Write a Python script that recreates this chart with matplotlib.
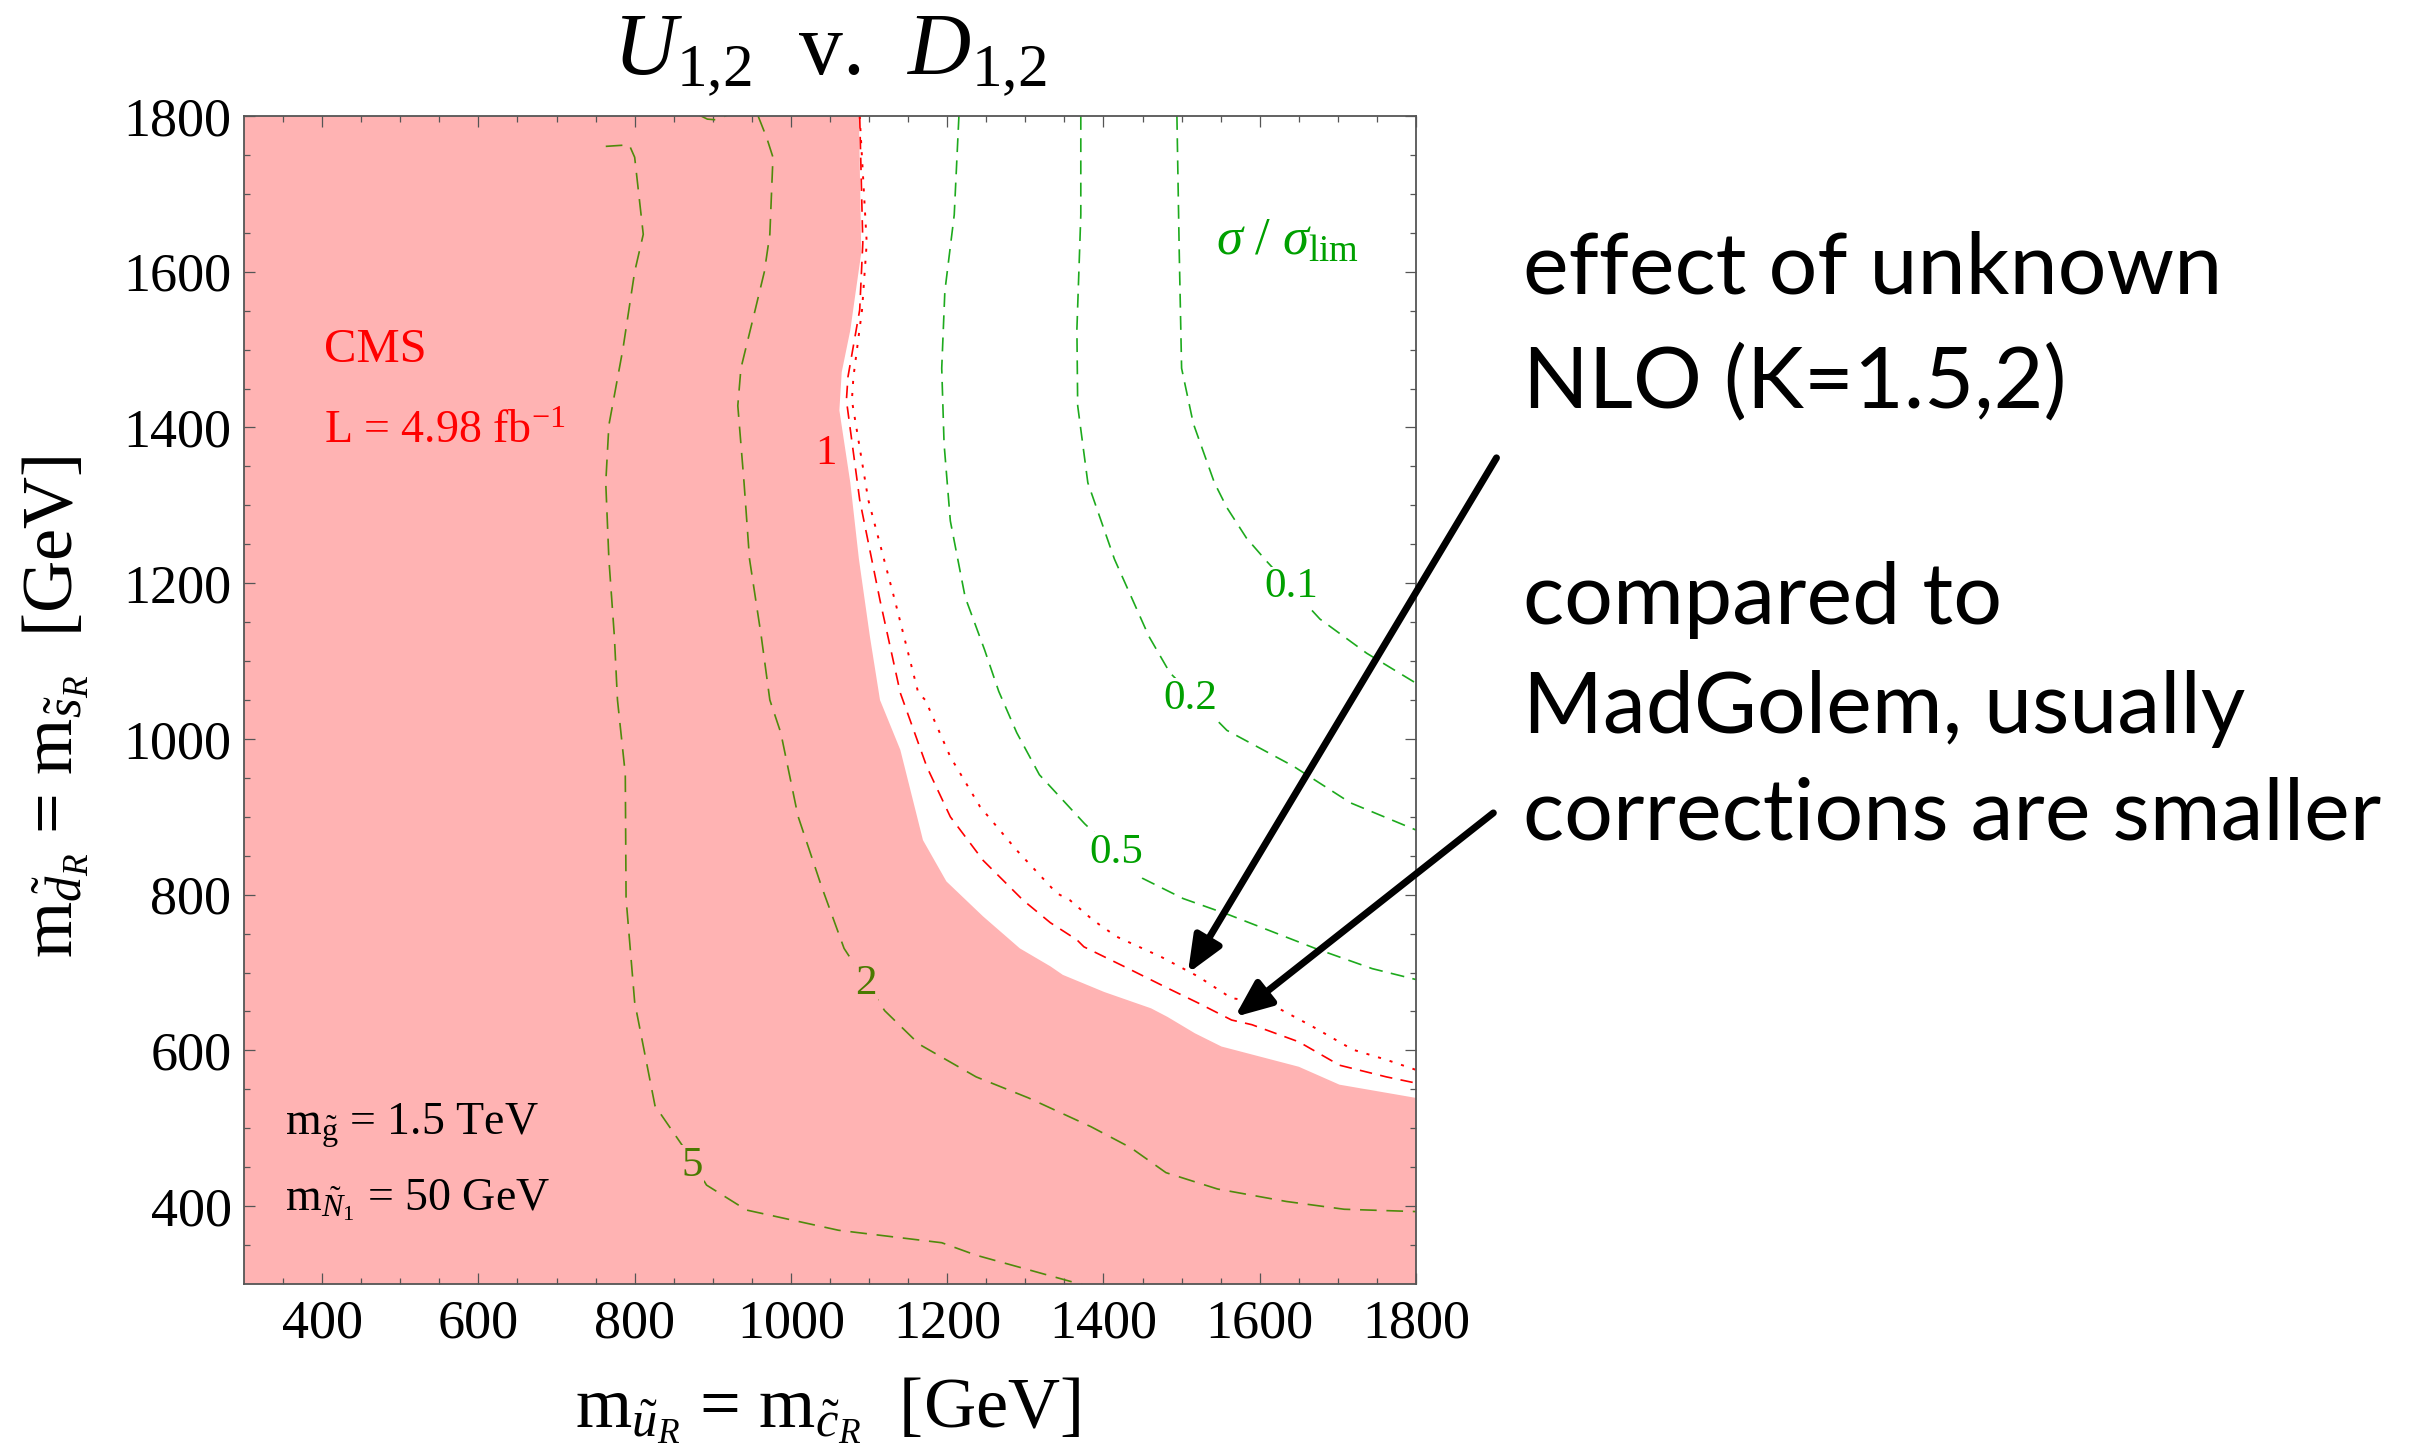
import matplotlib
matplotlib.use("Agg")
import matplotlib.pyplot as plt

plt.rcParams["font.family"] = ["Liberation Serif", "DejaVu Serif"]
plt.rcParams["mathtext.fontset"] = "custom"
plt.rcParams["mathtext.rm"] = "Liberation Serif"
plt.rcParams["mathtext.it"] = "Liberation Serif:italic"
plt.rcParams["mathtext.bf"] = "Liberation Serif:bold"
plt.rcParams["lines.scale_dashes"] = False

# ---- CMS exclusion boundary (sigma/sigma_lim = 1), squark masses in GeV ----
excl_x = [1087, 1090, 1083, 1076, 1065, 1062, 1076, 1087, 1101, 1114, 1140, 1169,
          1199, 1246, 1293, 1332, 1348, 1401, 1461, 1482, 1517, 1551, 1650, 1702, 1800]
excl_y = [1800, 1624, 1575, 1525, 1471, 1422, 1329, 1231, 1132, 1050, 986, 870,
          817, 772, 731, 708, 697, 675, 654, 643, 622, 605, 579, 556, 539]

# ---- NLO K-factor variations of the limit ----
k15_x = [1088, 1092, 1088, 1073, 1071, 1088, 1114, 1140, 1174, 1204, 1246, 1297,
         1332, 1366, 1375, 1430, 1482, 1521, 1564, 1590, 1650, 1702, 1762, 1800]
k15_y = [1800, 1637, 1551, 1465, 1435, 1307, 1178, 1059, 964, 900, 844, 793,
         764, 742, 733, 706, 680, 661, 639, 633, 611, 581, 566, 558]
k2_x = [1088, 1097, 1091, 1080, 1078, 1099, 1133, 1163, 1172, 1204, 1242, 1289,
        1340, 1357, 1387, 1417, 1474, 1521, 1564, 1611, 1667, 1719, 1762, 1800]
k2_y = [1800, 1637, 1551, 1465, 1435, 1307, 1178, 1059, 1050, 977, 913, 857,
        802, 793, 767, 746, 720, 695, 667, 661, 631, 601, 588, 575]

# ---- sigma / sigma_lim contours ----
c01_x = [1494, 1497, 1500, 1515, 1542, 1558, 1583, 1609, 1677, 1737, 1801]
c01_y = [1800, 1624, 1476, 1405, 1329, 1297, 1258, 1228, 1154, 1110, 1071]
c02_x = [1371, 1371, 1366, 1367, 1380, 1414, 1458, 1485, 1558, 1643, 1716, 1800]
c02_y = [1800, 1673, 1526, 1428, 1329, 1231, 1132, 1085, 1011, 965, 918, 883]
c05_x = [1215, 1209, 1197, 1193, 1196, 1204, 1223, 1248, 1266, 1289, 1318, 1376,
         1450, 1502, 1561, 1671, 1744, 1800]
c05_y = [1800, 1673, 1575, 1476, 1379, 1280, 1182, 1114, 1061, 1008, 954, 891,
         821, 795, 774, 731, 705, 691]
c2_x = [958, 969, 977, 973, 966, 954, 936, 932, 940, 947, 962, 973, 987, 1009,
        1039, 1068, 1120, 1164, 1237, 1304, 1384, 1435, 1480, 1546, 1634, 1708, 1800]
c2_y = [1800, 1772, 1747, 1648, 1600, 1550, 1476, 1428, 1329, 1231, 1132, 1050,
        1008, 901, 811, 731, 651, 608, 566, 539, 502, 475, 443, 422, 406, 396, 393]
c2_top_x = [883, 893, 905, 918]
c2_top_y = [1801, 1796, 1795, 1801]
c5_x = [763, 793, 800, 811, 800, 785, 767, 763, 767, 774, 778, 788, 789, 800,
        826, 863, 892, 943, 1061, 1193, 1237, 1384]
c5_y = [1761, 1763, 1747, 1648, 1600, 1501, 1403, 1329, 1231, 1132, 1050, 955,
        795, 662, 529, 475, 427, 395, 369, 353, 337, 296]

# contour labels: (text, x, y)
green_labels = [("0.1", 1640, 1195), ("0.2", 1511, 1052), ("0.5", 1417, 854)]
olive_labels = [("2", 1096, 686), ("5", 873, 452)]
red_label = ("1", 1045, 1366)

x_ticks = [400, 600, 800, 1000, 1200, 1400, 1600, 1800]
y_ticks = [400, 600, 800, 1000, 1200, 1400, 1600, 1800]

PINK = "#FFB3B3"
RED = "#FF0000"
GREEN = "#1DAA1D"
GREEN_TXT = "#00A000"
OLIVE = "#4F8A0B"
OLIVE_TXT = "#4A7A00"

W, H = 2419, 1445
fig = plt.figure(figsize=(W / 100, H / 100), dpi=100)
ax = fig.add_axes([244 / W, (H - 1284) / H, 1172 / W, 1168 / H])
ax.set_xlim(300, 1800)
ax.set_ylim(300, 1800)

# excluded region
poly_x = [300, 300] + excl_x + [1800]
poly_y = [300, 1800] + excl_y + [300]
ax.fill(poly_x, poly_y, color=PINK, lw=0, zorder=1)

lw = 1.2
ax.plot(k15_x, k15_y, color=RED, lw=lw, ls=(0, (9, 6)), zorder=3)
ax.plot(k2_x, k2_y, color=RED, lw=1.4, ls=(0, (2.2, 6.5)), zorder=3)
for cx, cy in [(c01_x, c01_y), (c02_x, c02_y), (c05_x, c05_y)]:
    ax.plot(cx, cy, color=GREEN, lw=lw, ls=(0, (10, 6)), zorder=3)
for cx, cy in [(c2_x, c2_y), (c2_top_x, c2_top_y), (c5_x, c5_y)]:
    ax.plot(cx, cy, color=OLIVE, lw=lw, ls=(0, (12, 7)), zorder=3)

lab_fs = 31
for t, x, y in green_labels:
    ax.text(x, y, t, color=GREEN_TXT, fontsize=lab_fs, ha="center", va="center",
            zorder=4, bbox=dict(fc="white", ec="none", pad=1))
for t, x, y in olive_labels:
    ax.text(x, y, t, color=OLIVE_TXT, fontsize=lab_fs, ha="center", va="center",
            zorder=4, bbox=dict(fc=PINK, ec="none", pad=1))
ax.text(red_label[1], red_label[2], red_label[0], color=RED, fontsize=lab_fs,
        ha="center", va="center", zorder=4)

# annotations inside the frame
ax.text(402, 1499, "CMS", color=RED, fontsize=35, ha="left", va="center", zorder=4)
ax.text(402, 1394, r"L = 4.98 fb$^{-1}$", color=RED, fontsize=33, ha="left",
        va="center", zorder=4)
ax.text(352, 503, r"$\mathrm{m}_{\tilde{\mathrm{g}}}$ = 1.5 TeV", color="black",
        fontsize=33, ha="left", va="center", zorder=4)
ax.text(352, 408, r"$\mathrm{m}_{\tilde{N}_1}$ = 50 GeV", color="black",
        fontsize=33, ha="left", va="center", zorder=4)
ax.text(1544, 1638, r"$\sigma\ /\ \sigma_{\mathrm{lim}}$", color=GREEN_TXT,
        fontsize=38, ha="left", va="center", zorder=4)

# frame and ticks
for sp in ax.spines.values():
    sp.set_color("#555555")
    sp.set_linewidth(1.3)
    sp.set_zorder(5)
ax.set_xticks(x_ticks)
ax.set_yticks(y_ticks)
ax.set_xticks(range(350, 1800, 50), minor=True)
ax.set_yticks(range(350, 1800, 50), minor=True)
ax.tick_params(which="both", direction="in", top=True, right=True,
               color="#555555", width=0.9, labelsize=39)
ax.tick_params(which="major", length=7.7)
ax.tick_params(which="minor", length=4)
ax.tick_params(axis="x", pad=11)
ax.tick_params(axis="y", pad=9)

# title and axis labels
ax.text(0.5, 1.035, r"$U_{1{,}2}$  v.  $D_{1{,}2}$", transform=ax.transAxes,
        fontsize=63, ha="center", va="baseline")
fig.text(828 / W, (H - 1427) / H,
         r"$\mathrm{m}_{\tilde{u}_R}$ = $\mathrm{m}_{\tilde{c}_R}$  [GeV]",
         fontsize=52, ha="center", va="baseline")
fig.text(72 / W, (H - 707) / H,
         r"$\mathrm{m}_{\tilde{d}_R}$ = $\mathrm{m}_{\tilde{s}_R}$  [GeV]",
         fontsize=52, ha="center", va="baseline", rotation=90,
         rotation_mode="anchor")

# side notes with arrows
side_font = dict(family=["Lato", "DejaVu Sans"], weight="normal", fontsize=62,
                 color="black")
notes = [("effect of unknown", 294), ("NLO (K=1.5,2)", 407),
         ("compared to", 624), ("MadGolem, usually", 733),
         ("corrections are smaller", 840)]
for txt, yb in notes:
    fig.text(1523 / W, (H - yb) / H, txt, ha="left", va="baseline", **side_font)

arrow_style = "-|>,head_length=1.0,head_width=0.42"
for tail, tip in [((1903, 1361), (1508, 699)), ((1899, 905), (1568, 643))]:
    ax.annotate("", xy=tip, xytext=tail, xycoords="data", textcoords="data",
                annotation_clip=False,
                arrowprops=dict(arrowstyle=arrow_style, mutation_scale=22,
                                lw=5, color="black", shrinkA=0, shrinkB=0),
                zorder=6)

fig.savefig("out.png", dpi=100)
